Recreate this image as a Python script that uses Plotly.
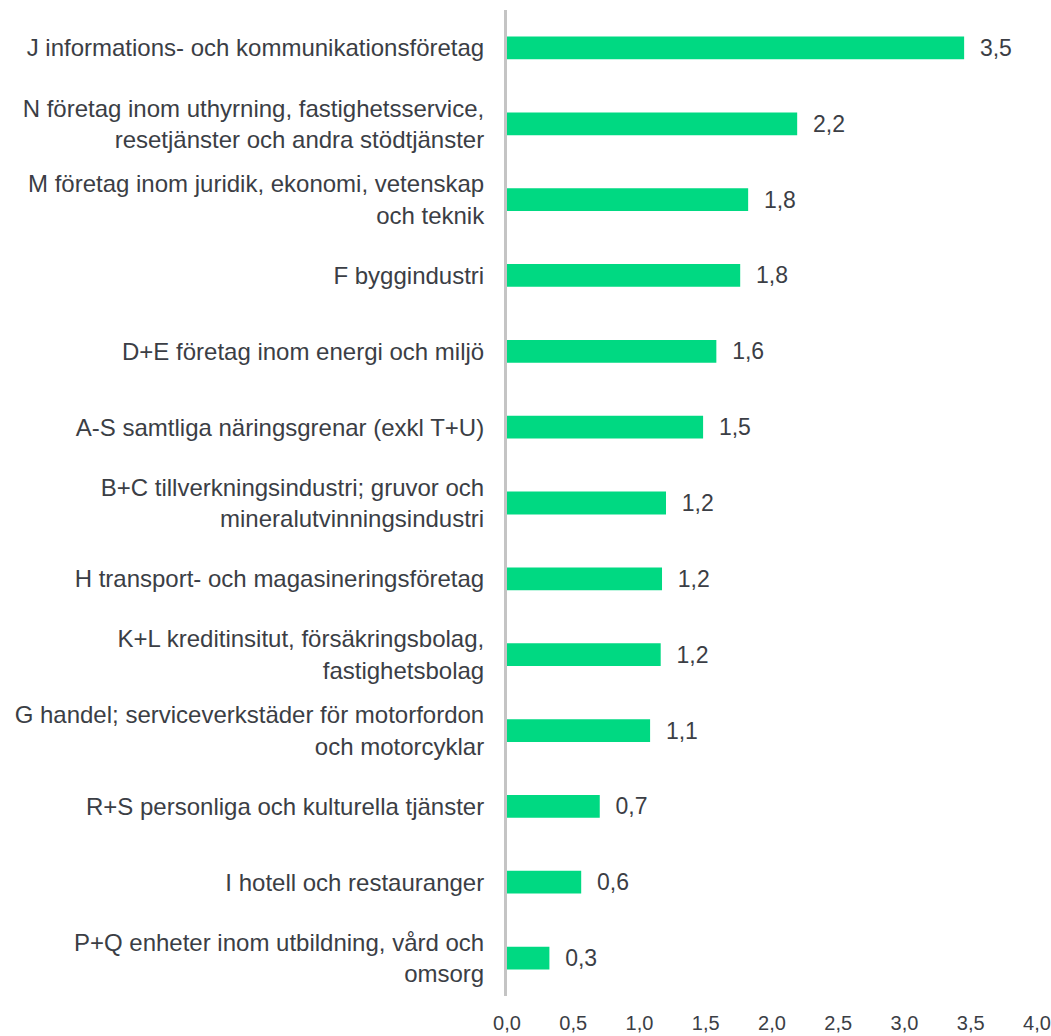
import plotly.graph_objects as go

categories = [
    "J informations- och kommunikationsföretag",
    "N företag inom uthyrning, fastighetsservice,<br>resetjänster och andra stödtjänster",
    "M företag inom juridik, ekonomi, vetenskap<br>och teknik",
    "F byggindustri",
    "D+E företag inom energi och miljö",
    "A-S samtliga näringsgrenar (exkl T+U)",
    "B+C tillverkningsindustri; gruvor och<br>mineralutvinningsindustri",
    "H transport- och magasineringsföretag",
    "K+L kreditinsitut, försäkringsbolag,<br>fastighetsbolag",
    "G handel; serviceverkstäder för motorfordon<br>och motorcyklar",
    "R+S personliga och kulturella tjänster",
    "I hotell och restauranger",
    "P+Q enheter inom utbildning, vård och<br>omsorg",
]
values = [3.45, 2.19, 1.82, 1.76, 1.58, 1.48, 1.20, 1.17, 1.16, 1.08, 0.70, 0.56, 0.32]
tick_vals = [0, 0.5, 1.0, 1.5, 2.0, 2.5, 3.0, 3.5, 4.0]
tick_text = [f"{t:.1f}".replace(".", ",") for t in tick_vals]
labels = ["\u00a0\u00a0" + f"{v:.1f}".replace(".", ",") for v in values]

TXT = "#3b3e45"
FONT = "Liberation Sans, Arial"
fig = go.Figure(go.Bar(
    x=values, y=categories, orientation="h",
    marker=dict(color="#00D982", line=dict(width=0)),
    width=0.3,
    text=labels, textposition="outside", cliponaxis=False,
    constraintext="none",
    textfont=dict(size=23, color=TXT, family=FONT),
))
fig.update_layout(
    width=1051, height=1036,
    margin=dict(l=507, r=14, t=10, b=40, autoexpand=False),
    plot_bgcolor="white", paper_bgcolor="white",
    font=dict(family=FONT, size=24, color=TXT),
    showlegend=False,
    xaxis=dict(range=[0, 4], tickvals=tick_vals, ticktext=tick_text,
               showgrid=False, zeroline=False, showline=False,
               ticks="outside", ticklen=9, tickcolor="rgba(0,0,0,0)",
               ticklabeloverflow="allow",
               tickfont=dict(size=20, color=TXT), automargin=False),
    yaxis=dict(autorange="reversed", showgrid=False, zeroline=False,
               showline=True, linecolor="#c4c4c4", linewidth=3,
               ticks="outside", ticklen=15, tickcolor="rgba(0,0,0,0)",
               tickfont=dict(size=24, color=TXT), automargin=False),
)
fig.write_html("out.html", config={"displayModeBar": False},
               post_script="document.body.style.margin='0';")
